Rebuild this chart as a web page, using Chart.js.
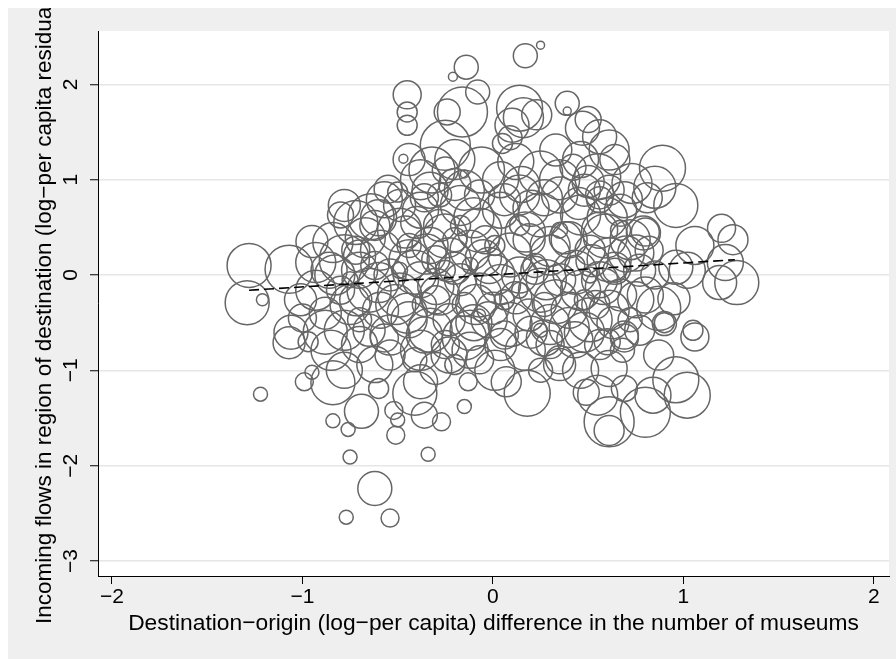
<!DOCTYPE html>
<html>
<head>
<meta charset="utf-8">
<script src="https://cdn.jsdelivr.net/npm/chart.js@4.4.1/dist/chart.umd.min.js"></script>
<style>
body{margin:8px 0 0 8px;background:#fff;}
canvas{display:block;background:#efefef;}
</style>
</head>
<body>
<canvas id="flowChart" width="888" height="651"></canvas>
<script>

// museum difference (x), residual incoming flows (y), region weight (marker area)
const museumDiff = [
    // left side
    -1.28,-1.29,-1.21,-1.07,-1.06,-1.07,-0.97,-0.99,-0.95,-1.22,-0.88,-0.85,-0.78,-0.84,-1.01,-0.93,-0.80,-0.72,-0.84,-0.64,-0.93,-0.78,-0.50,
    // top
    0.25,0.17,-0.14,-0.21,-0.45,-0.45,-0.45,-0.08,-0.16,-0.24,0.14,0.16,0.10,0.23,0.05,0.09,0.39,0.39,0.47,-0.25,-0.47,-0.15,-0.32,-0.25,-0.06,0.25,0.42,-0.38,-0.33,
    // right, upper
    0.89,0.96,0.85,0.81,0.56,0.50,0.73,1.20,1.26,1.06,1.22,1.28,0.96,1.02,0.55,0.61,0.56,0.79,0.75,0.87,0.90,1.05,0.64,0.46,
    // right, lower
    1.06,0.90,0.77,0.87,0.96,1.02,0.84,0.80,0.61,0.61,0.69,0.55,0.60,0.68,1.19,0.49,0.46,
    // bottom
    -0.13,-0.15,-0.34,0.18,0.07,-0.27,-0.36,-0.38,-0.41,-0.51,-0.60,-0.69,-0.52,-0.50,-0.84,-0.76,-0.75,-0.62,-0.77,-0.54,-0.07,-0.23,0.35,
    // core
    -0.70,-0.59,-0.49,-0.38,-0.28,-0.17,-0.07,0.04,0.14,0.25,
    0.35,0.46,0.56,0.67,0.72,0.61,0.51,0.40,0.30,0.19,
    0.09,-0.02,-0.12,-0.23,-0.33,-0.44,-0.54,-0.65,-0.75,-0.59,
    -0.49,-0.38,-0.28,-0.17,-0.07,0.04,0.14,0.25,0.35,0.46,
    0.56,0.67,0.61,0.51,0.40,0.30,0.19,0.09,-0.02,-0.12,
    -0.23,-0.33,-0.44,-0.54,-0.65,-0.70,-0.54,-0.38,-0.25,-0.12,
    0.04,0.17,0.30,0.43,0.56,0.69,-0.80,-0.86,-0.72,-0.44,
    -0.20,0.01,0.22,0.43,0.64,-0.25,-0.36,-0.15,0.06,0.27,
    0.48,-0.07,-0.28,-0.49,0.04,0.35,0.56,0.14,-0.17,-0.62,
    0.77,0.80,0.72,0.82,-0.41,-0.20,0.25,-0.70,0.67,-0.30,
    -0.12,0.14,0.35,-0.49,0.51,-0.75,-0.07,0.25,
    // core, second layer
    -0.78,-0.57,-0.36,-0.15,0.06,0.27,0.48,0.69,
    -0.67,-0.46,-0.25,-0.04,0.17,0.38,0.59,0.80,
    -0.83,-0.62,-0.41,-0.20,0.01,0.22,0.43,0.64,0.85,
    -0.72,-0.51,-0.30,-0.09,0.12,0.33,0.54,0.75,
    -0.78,-0.57,-0.36,-0.15,0.06,0.27,0.48,0.69,
    -0.62,-0.30,0.01,0.35,0.61,
    -0.44,-0.20,0.12,0.33,0.61,
    // core, third layer
    -0.60,-0.40,-0.10,0.20,0.45,0.60,
    -0.70,-0.35,-0.05,0.30,0.52,0.70,
    -0.88,-0.60,-0.30,0.00,0.28,0.58,
    -0.45,-0.10,0.20,0.40,0.63,
    -0.20,0.15,-0.55,0.50,
    -0.95,-1.00,0.95
];

const flowResid = [
    0.10,-0.29,-0.26,0.06,-0.60,-0.71,-0.70,-1.12,-1.02,-1.25,-0.60,-0.79,-1.00,-1.13,-0.26,-0.16,0.63,0.55,0.34,0.61,0.13,0.16,0.87,
    2.41,2.30,2.18,2.08,1.89,1.71,1.57,1.92,1.71,1.71,1.75,1.65,1.57,1.68,1.38,1.44,1.80,1.72,1.54,1.36,1.22,1.06,1.10,1.10,1.10,1.07,1.13,1.00,0.89,
    1.12,0.73,0.92,0.81,1.45,1.63,0.96,0.49,0.37,0.31,0.13,-0.08,0.08,0.05,1.03,0.89,0.79,0.44,0.23,-0.35,-0.50,-0.58,1.21,1.21,
    -0.65,-0.51,-0.58,-0.84,-1.10,-1.26,-1.26,-1.44,-1.63,-1.54,-1.19,-1.26,-0.70,-0.79,-0.08,-1.23,-1.00,
    -1.12,-1.38,-1.88,-1.24,-1.12,-1.54,-1.47,-1.12,-1.24,-1.68,-1.19,-1.43,-1.42,-1.52,-1.53,-1.62,-1.91,-2.24,-2.54,-2.55,-0.89,-0.84,-0.89,
    0.05,0.26,0.47,0.68,0.52,0.73,0.47,0.68,0.84,0.63,
    0.84,0.63,0.47,0.68,0.37,0.16,0.26,0.37,0.21,0.37,
    0.21,0.10,0.26,0.16,0.31,0.16,0.00,-0.16,-0.31,-0.37,
    -0.21,-0.05,-0.21,-0.05,-0.21,-0.10,0.00,-0.16,-0.05,-0.16,
    -0.05,-0.21,-0.37,-0.47,-0.37,-0.52,-0.42,-0.52,-0.47,-0.58,
    -0.47,-0.58,-0.47,-0.63,-0.58,-0.73,-0.84,-0.79,-0.73,-0.79,
    -0.73,-0.79,-0.73,-0.68,-0.73,-0.63,-0.16,0.05,0.26,0.31,
    0.37,0.31,0.10,0.10,0.05,0.05,-0.31,-0.31,-0.26,-0.31,
    -0.26,0.84,0.84,0.73,1.00,1.00,0.84,0.52,0.52,0.52,
    0.05,-0.21,-0.47,0.26,-0.89,-0.94,-1.00,-0.47,0.47,0.16,
    0.10,-0.16,0.47,0.05,0.00,-0.05,-0.42,-0.58,
    0.73,0.79,0.81,0.89,0.79,0.81,0.89,0.79,
    0.39,0.45,0.41,0.37,0.45,0.39,0.41,0.45,
    0.00,0.10,0.03,0.07,0.00,0.05,0.03,0.07,0.00,
    -0.26,-0.31,-0.26,-0.31,-0.24,-0.28,-0.31,-0.26,
    -0.58,-0.66,-0.63,-0.66,-0.63,-0.66,-0.60,-0.66,
    -0.94,-0.98,-1.00,-0.94,-0.98,
    1.21,1.21,1.19,1.31,1.31,
    0.60,0.55,0.60,0.70,0.75,0.60,
    0.20,0.22,0.18,0.30,0.15,0.22,
    -0.40,-0.08,-0.12,-0.35,-0.05,-0.12,
    -0.40,-0.50,-0.60,-0.55,-0.50,
    0.95,0.95,0.90,0.98,
    0.35,-0.45,-0.25
];

const regionWeight = [
    484,484,36,576,289,256,100,81,49,49,484,400,324,484,256,400,169,484,400,529,400,625,100,
    16,144,144,20,196,100,100,144,625,169,529,400,289,225,100,144,144,16,289,625,20,16,529,169,529,484,169,400,324,
    529,484,441,225,289,169,400,196,225,361,324,484,289,324,529,225,169,289,324,484,100,100,225,324,
    196,144,225,225,529,529,324,625,225,625,169,400,169,144,289,169,324,
    81,49,49,529,225,81,169,289,484,81,100,289,81,49,49,49,49,289,49,81,196,324,196,
    324,400,484,324,256,400,484,324,400,484,
    324,400,324,256,400,484,225,324,400,256,
    484,324,400,484,324,400,256,484,400,324,
    484,324,400,256,484,400,324,484,256,400,
    324,256,400,484,324,400,256,484,324,400,
    256,484,324,400,256,324,225,400,196,324,
    256,400,196,324,225,196,196,324,196,144,
    144,100,144,100,144,100,144,144,100,144,
    100,225,144,256,324,400,196,100,100,225,
    256,324,144,196,144,100,144,144,100,196,
    64,64,64,64,64,64,36,49,
    256,324,196,400,256,324,256,324,
    400,256,484,196,400,256,484,196,
    400,196,484,256,400,196,484,256,196,
    256,400,196,400,256,484,196,324,
    400,196,324,484,196,324,400,196,
    324,256,400,256,324,
    256,400,324,256,400,
    324,256,400,324,256,400,
    256,400,324,400,256,324,
    256,400,324,256,400,324,
    400,324,256,400,256,
    256,324,196,256,
    256,196,256
];

// fitted line end points
const fitX = [-1.28, 1.27];
const fitY = [-0.16, 0.16];

const xTicks = [-2, -1, 0, 1, 2];
const yTicks = [-3, -2, -1, 0, 1, 2];

const xTitle = "Destination\u2212origin (log\u2212per capita) difference in the number of museums";
const yTitle = "Incoming flows in region of destination (log\u2212per capita residuals)";

const fontName = "'Liberation Sans', Arial, sans-serif";

function minusLabel(value){
    return value < 0 ? "\u2212" + Math.abs(value) : String(value);
}

function noScalePadding(s){
    s.paddingLeft = 0;
    s.paddingRight = 0;
    s.paddingTop = 0;
    s.paddingBottom = 0;
}

const plotBackground = {
    id: "plotBackground",
    beforeDraw(chart){
        const {ctx, chartArea} = chart;
        ctx.save();
        ctx.fillStyle = "#ffffff";
        ctx.fillRect(chartArea.left, chartArea.top,
            chartArea.right - chartArea.left, chartArea.bottom - chartArea.top);
        ctx.restore();
    }
};

// y title is longer than the axis, so draw it without squeezing
const yTitlePlugin = {
    id: "yTitlePlugin",
    afterDraw(chart){
        const {ctx, chartArea} = chart;
        ctx.save();
        ctx.translate(43, (chartArea.top + chartArea.bottom) / 2);
        ctx.rotate(-Math.PI / 2);
        ctx.font = "22.5px " + fontName;
        ctx.fillStyle = "#000";
        ctx.textAlign = "center";
        ctx.textBaseline = "alphabetic";
        ctx.fillText(yTitle, 0, 0);
        ctx.restore();
    }
};

const bubbles = museumDiff.map((x, i) => ({
    x: x,
    y: flowResid[i],
    r: Math.sqrt(regionWeight[i])
}));

const fitLine = fitX.map((x, i) => ({x: x, y: fitY[i]}));

new Chart(document.getElementById("flowChart"), {
    type: "bubble",
    data: {
        datasets: [
            {
                type: "line",
                data: fitLine,
                borderColor: "#000",
                borderWidth: 1.6,
                borderDash: [10, 5],
                pointRadius: 0,
                fill: false,
                order: 0
            },
            {
                data: bubbles,
                backgroundColor: "rgba(0,0,0,0)",
                borderColor: "#666666",
                borderWidth: 1.5,
                order: 1
            }
        ]
    },
    options: {
        responsive: false,
        animation: false,
        layout: {
            autoPadding: false,
            padding: {left: 0, top: 23, right: 7, bottom: 0}
        },
        plugins: {
            legend: {display: false},
            tooltip: {enabled: false}
        },
        scales: {
            x: {
                type: "linear",
                min: -2.073,
                max: 2.079,
                afterBuildTicks: s => { s.ticks = xTicks.map(v => ({value: v})); },
                afterFit: s => { s.height = 83; noScalePadding(s); },
                border: {color: "#000", width: 1},
                grid: {
                    drawOnChartArea: false,
                    tickLength: 8,
                    tickColor: "#000",
                    tickWidth: 1
                },
                ticks: {
                    color: "#000",
                    font: {family: fontName, size: 21},
                    padding: 1,
                    maxRotation: 0,
                    callback: minusLabel
                },
                title: {
                    display: true,
                    text: xTitle,
                    color: "#000",
                    font: {family: fontName, size: 22.8},
                    padding: {top: 0, bottom: 22}
                }
            },
            y: {
                type: "linear",
                min: -3.157,
                max: 2.559,
                afterBuildTicks: s => { s.ticks = yTicks.map(v => ({value: v})); },
                afterFit: s => { s.width = 90; noScalePadding(s); },
                border: {color: "#000", width: 1},
                grid: {
                    color: "#e6e6e6",
                    lineWidth: 1.5,
                    tickLength: 8,
                    tickColor: "#000",
                    tickWidth: 1
                },
                ticks: {
                    color: "#000",
                    font: {family: fontName, size: 21},
                    padding: 7,
                    minRotation: 90,
                    maxRotation: 90,
                    crossAlign: "center",
                    callback: minusLabel
                }
            }
        }
    },
    plugins: [plotBackground, yTitlePlugin]
});

</script>
</body>
</html>
